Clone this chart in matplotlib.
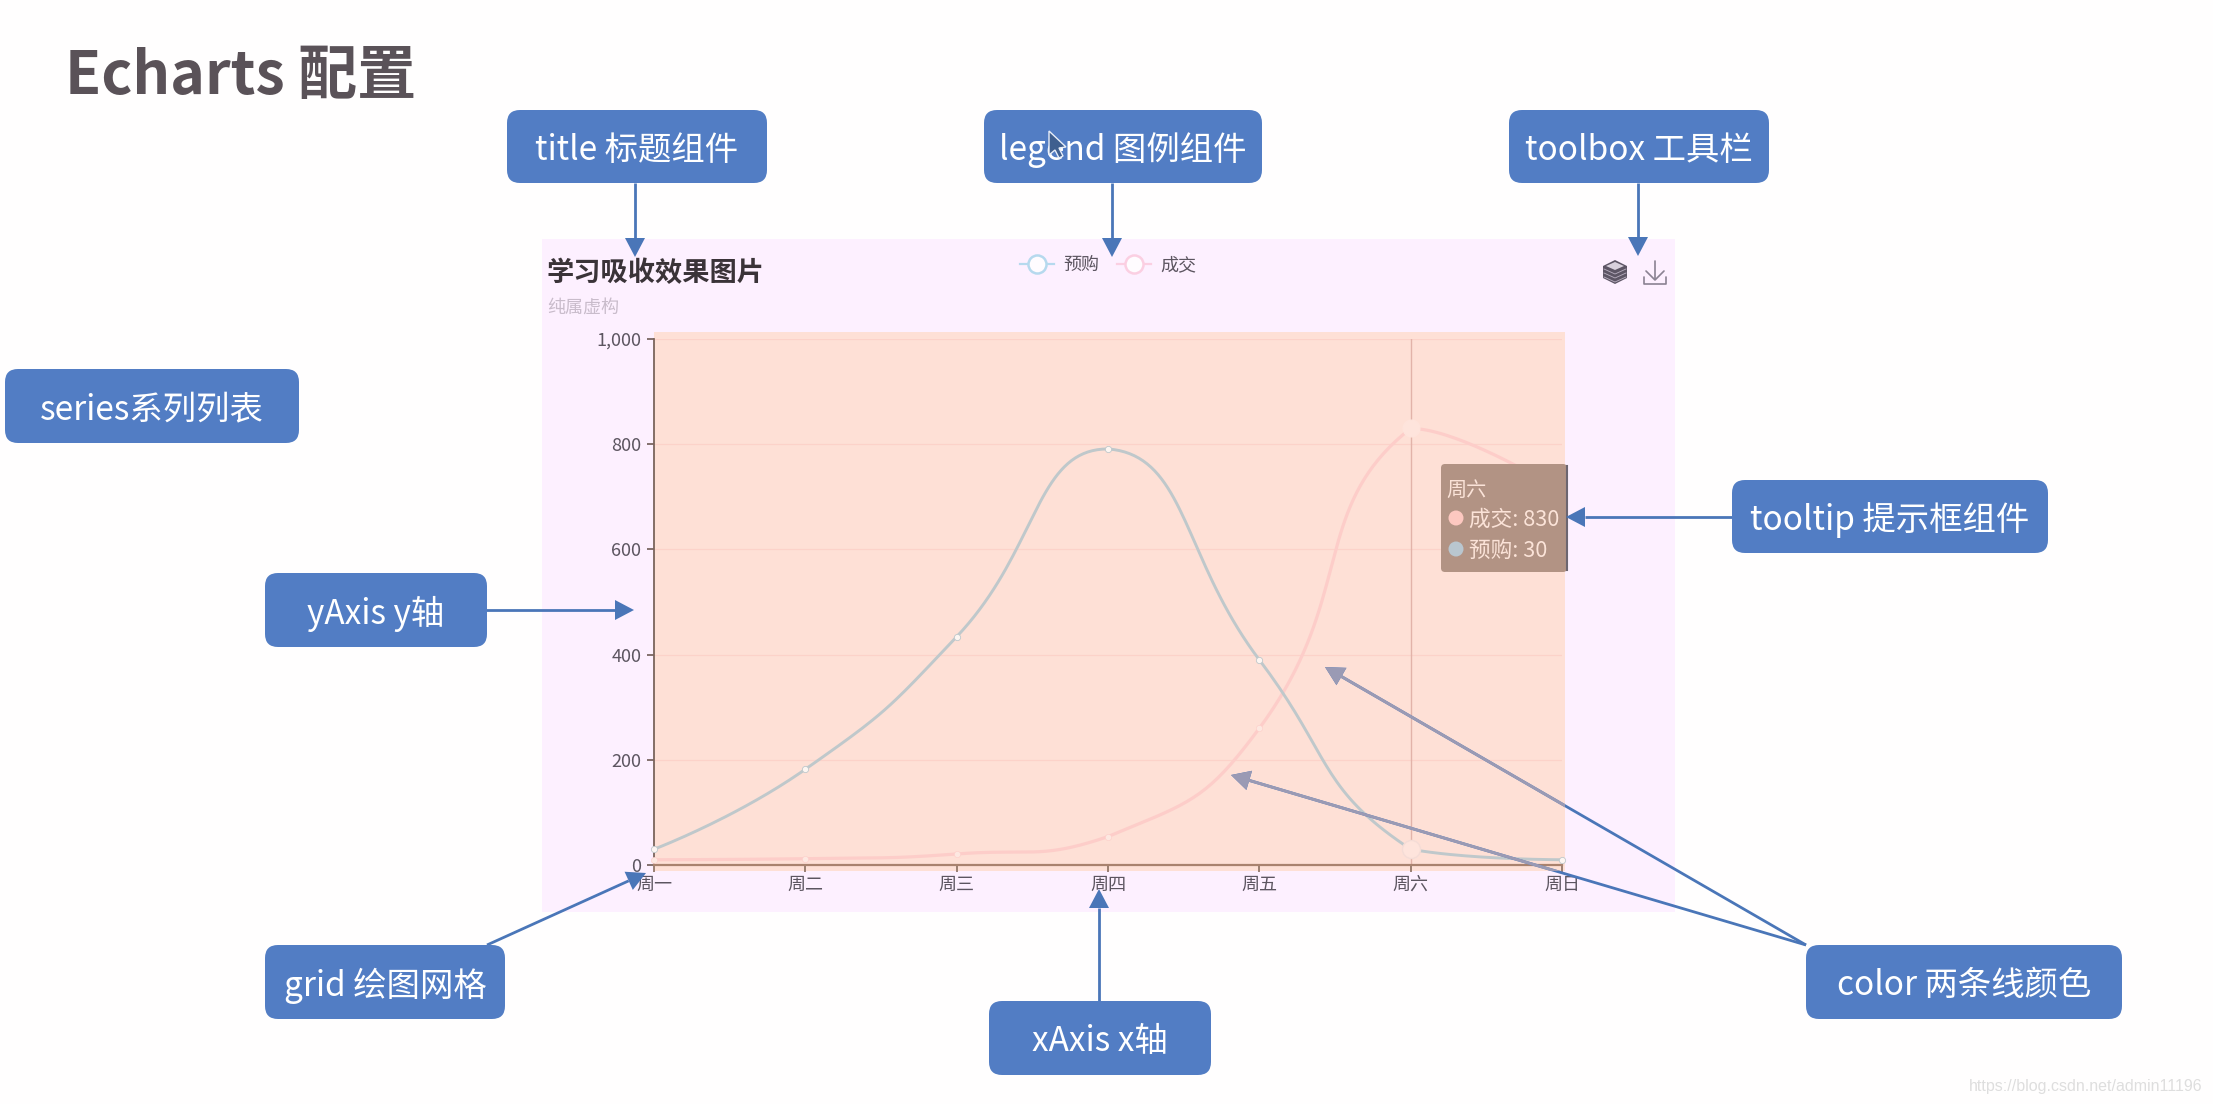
import numpy as np
import matplotlib
matplotlib.use("Agg")
import matplotlib.pyplot as plt
from matplotlib.patches import FancyBboxPatch, Rectangle, Polygon, Circle
from matplotlib.lines import Line2D

plt.rcParams['font.family'] = ['Noto Sans CJK SC', 'DejaVu Sans']

W, H = 2213, 1104
days = ['周一', '周二', '周三', '周四', '周五', '周六', '周日']
preorder = [30, 182, 434, 791, 390, 30, 10]
deals = [10, 12, 21, 54, 260, 830, 710]
yticks = [0, 200, 400, 600, 800, 1000]
ylabels = ['0', '200', '400', '600', '800', '1,000']
name_pre, name_deal = '预购', '成交'

BOX = '#527dc4'; ARW = '#4a76b8'; MUTED = '#9a9ab4'
PANEL = '#fdf0ff'; ORANGE = '#fee0d6'
TXT = '#5c5560'

fig = plt.figure(figsize=(W/100, H/100), dpi=100, facecolor='#fffefe')

def overlay(z):
    a = fig.add_axes([0, 0, 1, 1], zorder=z)
    a.set_xlim(0, W); a.set_ylim(H, 0); a.axis('off')
    a.patch.set_alpha(0)
    return a

bg = overlay(0)
top = overlay(5)

bg.add_patch(Rectangle((542, 239), 1133, 673, fc=PANEL, ec='none'))
bg.add_patch(Rectangle((654, 332), 911, 539, fc=ORANGE, ec='none'))

# chart
L, R, T, B = 654, 1562, 339, 865
ax = fig.add_axes([L/W, 1-B/H, (R-L)/W, (B-T)/H], zorder=1)
ax.patch.set_alpha(0)
xs = np.arange(len(days))
ax.set_xlim(0, 6); ax.set_ylim(0, 1000)
for s in ('top', 'right'):
    ax.spines[s].set_visible(False)
ax.spines['left'].set_color('#7a645c'); ax.spines['left'].set_linewidth(1.3)
ax.spines['bottom'].set_color('#a9826e'); ax.spines['bottom'].set_linewidth(1.6)
ax.set_yticks(yticks, ylabels)
ax.set_xticks(xs, days)
ax.tick_params(axis='y', length=5, width=1.2, color='#6f5a55', labelsize=13,
               labelcolor=TXT, pad=4)
ax.tick_params(axis='x', length=5, width=1.2, color='#8a6f60', labelsize=13,
               labelcolor=TXT, pad=3)
ax.grid(axis='y', color='#fcd2c9', lw=0.9)
ax.set_axisbelow(True)
ax.axvline(5, color='#e2b3a9', lw=1.0, zorder=1)

def smooth(vals, k=0.5):
    sx, sy = (R-L)/6, (B-T)/1000
    P = np.column_stack([xs*sx, np.array(vals, float)*sy])
    lo, hi = P[:, 1].min(), P[:, 1].max()
    n = len(P)
    cp0 = P[0].copy()
    X, Y = [], []
    for i in range(1, n):
        p = P[i]
        if i < n-1:
            v = (P[i+1]-P[i-1])*k
            a = np.linalg.norm(p-P[i-1]); b = np.linalg.norm(P[i+1]-p)
            s = a+b
            cp1 = p - v*a/s
            nxt = p + v*b/s
            cp1[1] = np.clip(cp1[1], lo, hi); nxt[1] = np.clip(nxt[1], lo, hi)
        else:
            cp1 = p.copy(); nxt = p.copy()
        t = np.linspace(0, 1, 40)[:, None]
        c = (1-t)**3*P[i-1] + 3*(1-t)**2*t*cp0 + 3*(1-t)*t**2*cp1 + t**3*p
        X.extend(c[:, 0]/sx); Y.extend(c[:, 1]/sy)
        cp0 = nxt
    return X, Y

LP, LD = '#bfc8cb', '#fdcdc9'
ax.plot(*smooth(deals), color=LD, lw=2.3, zorder=3, clip_on=False, label=name_deal)
ax.plot(*smooth(preorder), color=LP, lw=2.1, zorder=3, clip_on=False, label=name_pre)
ax.plot(xs, deals, ls='none', marker='o', ms=4.5, mfc='#fde8e1', mec=LD, mew=.4, zorder=4, clip_on=False)
ax.plot(xs, preorder, ls='none', marker='o', ms=4.5, mfc='#fdf6f2', mec=LP, mew=.6, zorder=4, clip_on=False)
ax.plot([5], [deals[5]], ls='none', marker='o', ms=12, mfc='#fee4dc', mec='#fee4dc', zorder=5, clip_on=False)
ax.plot([5], [preorder[5]], ls='none', marker='o', ms=13, mfc='#fee4dc', mec='#f4dcd6', mew=1, zorder=5, clip_on=False)

# chart title etc.
top.text(547, 273, '学习吸收效果图片', fontsize=19.6, fontweight='bold', color='#3a3338', va='center')
top.text(547, 308, '纯属虚构', fontsize=13, color='#c9bccb', va='center')

# legend
hp = Line2D([], [], color='#b6d9ee', lw=1.6, marker='o', ms=13, mfc='#fffcff', mec='#b6d9ee', mew=1.8)
hd = Line2D([], [], color='#fbcfe2', lw=1.6, marker='o', ms=13, mfc='#fffcff', mec='#fbcfe2', mew=1.8)
leg = fig.legend([hp, hd], [name_pre, name_deal], ncol=2, frameon=False, fontsize=13,
                 labelcolor=TXT, loc='center', bbox_to_anchor=(1108/W, 1-265/H),
                 handlelength=1.9, handletextpad=0.5, columnspacing=1.0)
leg.set_zorder(2)

# toolbox icons
cx, cy = 1615, 272
top.add_patch(Polygon([(cx-12, cy-6), (cx, cy-12), (cx+12, cy-6), (cx+12, cy+6), (cx, cy+12), (cx-12, cy+6)],
                      fc='#5d5565', ec='none', zorder=6))
top.add_patch(Polygon([(cx-9, cy-6), (cx, cy-10), (cx+9, cy-6), (cx, cy-2)], fc='#d8d0dc', ec='none', zorder=7))
for dy in (0, 4, 8):
    top.plot([cx-11, cx, cx+11], [cy-3+dy, cy+2+dy, cy-3+dy], color='#b9afc0', lw=.6, zorder=7)
dx0, dy0 = 1655, 272
ic = dict(color='#8a8292', lw=1.2, zorder=6, solid_capstyle='round')
top.plot([dx0, dx0], [dy0-11, dy0+7], **ic)
top.plot([dx0-9, dx0, dx0+9], [dy0-1, dy0+8, dy0-1], **ic)
top.plot([dx0-11, dx0-11, dx0+11, dx0+11], [dy0+5, dy0+12, dy0+12, dy0+5], **ic)

# tooltip
top.add_patch(FancyBboxPatch((1441, 464), 126, 108, boxstyle='round,pad=0,rounding_size=4',
                             fc='#b29384', ec='none', zorder=3))
top.plot([1567, 1567], [466, 570], color='#6d6670', lw=1.5, zorder=3)
TT = '#fbe3d8'
top.text(1446, 490, days[5], fontsize=14.5, color=TT, va='center', zorder=4)
top.add_patch(Circle((1456, 518), 7.5, fc='#fdc8c0', ec='none', zorder=4))
top.add_patch(Circle((1456, 549), 7.5, fc='#b9c6cf', ec='none', zorder=4))
top.text(1469, 520, f'{name_deal}: {deals[5]}', fontsize=15.6, color=TT, va='center', zorder=4)
top.text(1469, 551, f'{name_pre}: {preorder[5]}', fontsize=15.6, color=TT, va='center', zorder=4)

# arrows
orange_clip = Rectangle((654, 332), 911, 539, transform=top.transData)
def arrow(x0, y0, x1, y1, muted=False):
    d = np.array([x1-x0, y1-y0], float); u = d/np.linalg.norm(d); n = np.array([-u[1], u[0]])
    tip = np.array([x1, y1]); base = tip-u*19
    tri = [tip, base+n*10, base-n*10]
    top.plot([x0, base[0]], [y0, base[1]], color=ARW, lw=2.0, zorder=8, solid_capstyle='butt')
    top.add_patch(Polygon(tri, fc=ARW, ec='none', zorder=8))
    if muted:
        l, = top.plot([x0, base[0]], [y0, base[1]], color=MUTED, lw=2.1, zorder=9)
        l.set_clip_path(orange_clip)
        p = Polygon(tri, fc=MUTED, ec='none', zorder=9)
        top.add_patch(p); p.set_clip_path(orange_clip)

arrow(635, 183, 635, 257)
arrow(1112, 183, 1112, 257)
arrow(1638, 183, 1638, 256)
arrow(486, 610, 634, 610)
arrow(1732, 517, 1566, 517)
arrow(487, 945, 646, 873)
arrow(1099, 1002, 1099, 889)
arrow(1806, 945, 1325, 667, muted=True)
arrow(1806, 945, 1231, 775, muted=True)

# label boxes
boxes = [
    (507, 110, 260, 73, 'title 标题组件'),
    (984, 110, 278, 73, 'legend 图例组件'),
    (1509, 110, 260, 73, 'toolbox 工具栏'),
    (5, 369, 294, 74, 'series系列列表'),
    (265, 573, 222, 74, 'yAxis y轴'),
    (1732, 480, 316, 73, 'tooltip 提示框组件'),
    (265, 945, 240, 74, 'grid 绘图网格'),
    (989, 1001, 222, 74, 'xAxis x轴'),
    (1806, 945, 316, 74, 'color 两条线颜色'),
]
for x, y, w, h, s in boxes:
    top.add_patch(FancyBboxPatch((x, y), w, h, boxstyle='round,pad=0,rounding_size=13',
                                 fc=BOX, ec='none', zorder=10))
    top.text(x+w/2, y+h/2+4, s, color='white', fontsize=24, ha='center', va='center', zorder=11)

# cursor over the legend box
mx, my = 1049, 131
top.add_patch(Polygon([(mx, my), (mx, my+24), (mx+6, my+19), (mx+10, my+27), (mx+14, my+25),
                       (mx+10, my+17), (mx+17, my+16)], fc='#3f5f8f', ec='#e8eef8', lw=1, zorder=12))

# page title
top.text(65, 77, 'Echarts 配置', fontsize=42.5, fontweight='bold', color='#5a5258', va='center', zorder=11)

# watermark
top.text(2203, 1086, 'https://blog.csdn.net/admin11196', fontsize=11.5, color='#dedede',
         family=['Liberation Sans', 'DejaVu Sans'], ha='right', va='center', zorder=11)

fig.savefig('out.png', dpi=100, facecolor=fig.get_facecolor())
